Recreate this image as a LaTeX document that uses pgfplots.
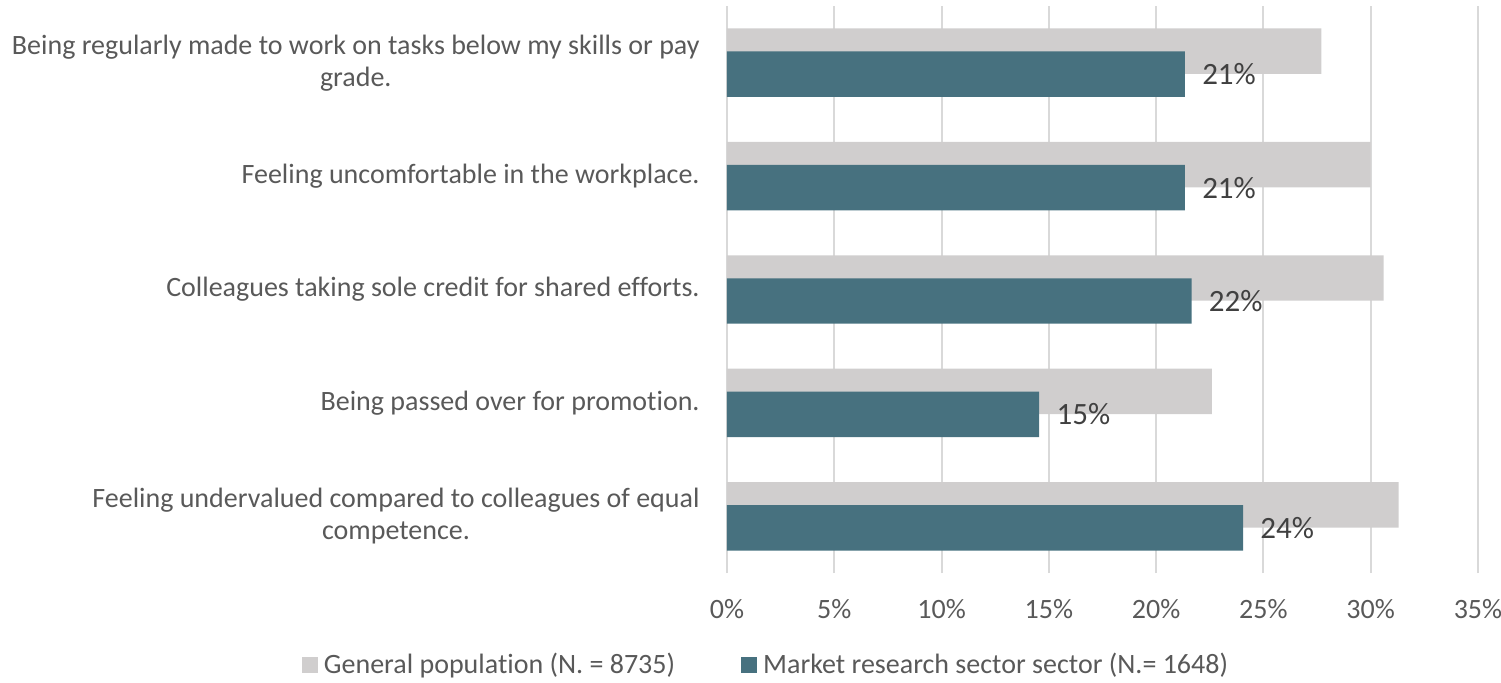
\documentclass[border=0pt]{standalone}
\usepackage{fontspec}
\setmainfont{Carlito}[Ligatures=NoCommon]
\usepackage{pgfplots}
\pgfplotsset{compat=1.18}
\definecolor{gpop}{HTML}{D0CECE}
\definecolor{mrs}{HTML}{47717F}
\definecolor{txt}{HTML}{595959}
\definecolor{lbl}{HTML}{404040}
\definecolor{gridc}{HTML}{D9D9D9}
\begin{document}
\begin{tikzpicture}
\path[use as bounding box] (-363.5pt,-54.5pt) rectangle (387pt,286.5pt);
\begin{axis}[
  at={(0,0)}, anchor=south west,
  scale only axis, width=375.5pt, height=283.5pt,
  xmin=0, xmax=35, ymin=-0.5, ymax=4.5,
  xbar,
  every axis plot post/.append style={legend image code/.code={\fill[##1] (0pt,-4pt) rectangle (8pt,4pt); \path (11pt,0pt);}},
  axis line style={draw=none},
  major tick length=0pt,
  xmajorgrids, grid style={gridc, line width=1pt},
  xtick={0,5,...,35},
  xticklabels={0\%,5\%,10\%,15\%,20\%,25\%,30\%,35\%},
  xticklabel style={anchor=center, yshift=-18pt, inner sep=0pt, text=txt, font=\fontsize{14pt}{17pt}\selectfont},
  ytick={0,1,2,3,4},
  yticklabels={{Feeling undervalued compared to colleagues of equal\\competence.},
               {Being passed over for promotion.},
               {Colleagues taking sole credit for shared efforts.},
               {Feeling uncomfortable in the workplace.},
               {Being regularly made to work on tasks below my skills or pay\\grade.}},
  yticklabel style={align=center, anchor=east, inner sep=0pt, xshift=-13.5pt, text=txt, font=\fontsize{14pt}{16pt}\selectfont},
  legend columns=2,
  legend style={at={(axis description cs:0.0506,-0.1623)}, anchor=center, draw=none, fill=none,
     column sep=0pt, nodes={inner sep=0pt, text=txt}, font=\fontsize{14pt}{17pt}\selectfont,
     /tikz/every even column/.append style={column sep=33pt}},
  legend cell align=left,
]
\addplot[fill=gpop, draw=none, bar width=0.401, bar shift=0.1014]
  coordinates {(31.3,0) (22.6,1) (30.6,2) (30.0,3) (27.7,4)};
\addlegendentry{General population (N. = 8735)}
\addplot[fill=mrs, draw=none, bar width=0.401, bar shift=-0.1014,
  point meta=explicit symbolic, nodes near coords,
  every node near coord/.append style={anchor=west, inner sep=0pt, xshift=8.5pt, text=lbl, font=\fontsize{15.5pt}{18pt}\selectfont}]
  coordinates {(24.05,0) [24\%] (14.55,1) [15\%] (21.65,2) [22\%] (21.34,3) [21\%] (21.34,4) [21\%]};
\addlegendentry{Market research sector sector (N.= 1648)}
\end{axis}
\end{tikzpicture}
\end{document}
